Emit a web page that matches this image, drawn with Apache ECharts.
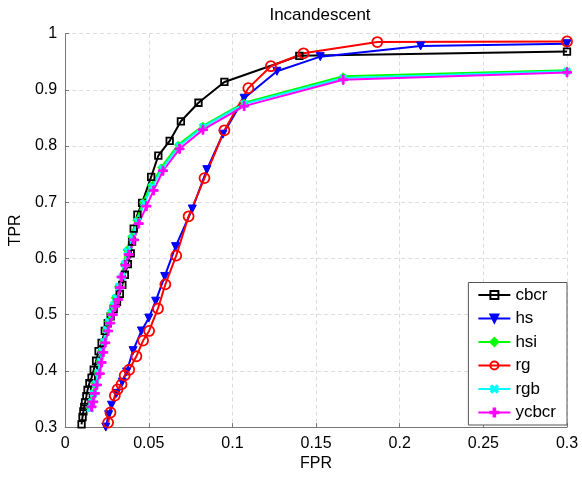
<!DOCTYPE html>
<html><head><meta charset="utf-8">
<script src="https://cdn.jsdelivr.net/npm/echarts@6/dist/echarts.min.js"></script>
<style>html,body{margin:0;padding:0;background:#fff}#c{width:582px;height:477px}</style>
</head><body><div id="c"></div>
<script>
const seriesNames = ['cbcr','hs','hsi','rg','rgb','ycbcr'];
const xTicks = [0,0.05,0.1,0.15,0.2,0.25,0.3];
const yTicks = [0.3,0.4,0.5,0.6,0.7,0.8,0.9,1];
const cbcr = [[0.0098,0.305],[0.0104,0.318],[0.0109,0.328],[0.0114,0.336],[0.0119,0.344],[0.0127,0.355],[0.0134,0.366],[0.0145,0.378],[0.0158,0.388],[0.0171,0.402],[0.0185,0.418],[0.0200,0.435],[0.0218,0.450],[0.0237,0.471],[0.0255,0.485],[0.0272,0.497],[0.0290,0.510],[0.0310,0.523],[0.0327,0.537],[0.0342,0.553],[0.0357,0.571],[0.0375,0.590],[0.0392,0.609],[0.0400,0.630],[0.0410,0.653],[0.0432,0.678],[0.0460,0.699],[0.0514,0.745],[0.0557,0.783],[0.0625,0.809],[0.0692,0.844],[0.0797,0.877],[0.0952,0.914],[0.1400,0.9605],[0.3000,0.968]];
const hs = [[0.0243,0.300],[0.0260,0.322],[0.0277,0.339],[0.0307,0.360],[0.0341,0.380],[0.0367,0.398],[0.0406,0.436],[0.0456,0.471],[0.0500,0.494],[0.0541,0.524],[0.0595,0.568],[0.0660,0.621],[0.0760,0.688],[0.0847,0.758],[0.0943,0.821],[0.1070,0.885],[0.1266,0.933],[0.1525,0.959],[0.2125,0.978],[0.3000,0.982]];
const hsi = [[0.0145,0.334],[0.0155,0.345],[0.0165,0.360],[0.0178,0.377],[0.0193,0.397],[0.0205,0.417],[0.0215,0.435],[0.0228,0.452],[0.0243,0.473],[0.0256,0.488],[0.0270,0.503],[0.0285,0.517],[0.0297,0.530],[0.0315,0.550],[0.0337,0.568],[0.0350,0.590],[0.0367,0.615],[0.0396,0.639],[0.0426,0.668],[0.0466,0.700],[0.0513,0.730],[0.0575,0.762],[0.0675,0.802],[0.0824,0.836],[0.1070,0.877],[0.1662,0.924],[0.3000,0.9346]];
const rg = [[0.0257,0.308],[0.0271,0.326],[0.0297,0.356],[0.0313,0.367],[0.0337,0.376],[0.0356,0.392],[0.0383,0.402],[0.0426,0.426],[0.0466,0.454],[0.0502,0.471],[0.0555,0.511],[0.0599,0.554],[0.0664,0.605],[0.0738,0.675],[0.0833,0.743],[0.0952,0.828],[0.1095,0.903],[0.1230,0.942],[0.1425,0.965],[0.1866,0.985],[0.3000,0.986]];
const rgb = [[0.0150,0.333],[0.0160,0.345],[0.0170,0.360],[0.0183,0.377],[0.0198,0.397],[0.0210,0.417],[0.0220,0.435],[0.0233,0.452],[0.0248,0.473],[0.0261,0.488],[0.0275,0.503],[0.0290,0.517],[0.0303,0.530],[0.0320,0.550],[0.0342,0.568],[0.0355,0.590],[0.0372,0.613],[0.0402,0.637],[0.0432,0.666],[0.0472,0.698],[0.0520,0.728],[0.0580,0.760],[0.0680,0.800],[0.0824,0.834],[0.1070,0.875],[0.1662,0.921],[0.3000,0.933]];
const ycbcr = [[0.0158,0.336],[0.0168,0.345],[0.0178,0.360],[0.0190,0.375],[0.0207,0.395],[0.0218,0.415],[0.0228,0.433],[0.0240,0.450],[0.0257,0.471],[0.0270,0.485],[0.0285,0.500],[0.0300,0.515],[0.0317,0.527],[0.0327,0.548],[0.0337,0.567],[0.0360,0.588],[0.0380,0.607],[0.0412,0.633],[0.0440,0.662],[0.0486,0.693],[0.0529,0.721],[0.0585,0.756],[0.0684,0.795],[0.0824,0.829],[0.1070,0.871],[0.1662,0.918],[0.3000,0.931]];

const plus = 'path://M4,0H6V4H10V6H6V10H4V6H0V4H4Z';
const FONT = 'Liberation Sans';
const CLEAR = 'rgba(255,255,255,0)';
function mk(name, data, color, symbol, size, opts) {
  return Object.assign({
    name, type:'line', data, symbol, symbolSize:size, showSymbol:true,
    lineStyle:{color, width:2}, itemStyle:{color, borderColor:color, borderWidth:1},
    emphasis:{disabled:true}, animation:false
  }, opts||{});
}
const chart = echarts.init(document.getElementById('c'));
chart.setOption({
  backgroundColor:'#fff',
  animation:false,
  title:{text:'Incandescent', left:315, top:2, textAlign:'center',
    textStyle:{fontFamily:FONT, fontSize:17, fontWeight:'normal', color:'#000'}},
  grid:{left:63.5, right:15, top:33.6, bottom:46.5},
  xAxis:{type:'value', min:0, max:0.3, interval:0.05,
    name:'FPR', nameLocation:'middle', nameGap:27,
    nameTextStyle:{fontFamily:FONT, fontSize:16, color:'#000'},
    axisLine:{show:true, onZero:false, lineStyle:{color:'#777', width:1}},
    axisTick:{show:true, inside:true, length:4, lineStyle:{color:'#777'}},
    axisLabel:{fontFamily:FONT, fontSize:16, color:'#000', margin:8,
      formatter:v=>String(+v.toFixed(2))},
    splitLine:{show:true, lineStyle:{color:'#dcdcdc', type:[4,3], width:1}}},
  yAxis:{type:'value', min:0.3, max:1, interval:0.1,
    name:'TPR', nameLocation:'middle', nameGap:30,
    nameTextStyle:{fontFamily:FONT, fontSize:16, color:'#000'},
    axisLine:{show:true, onZero:false, lineStyle:{color:'#777', width:1}},
    axisTick:{show:true, inside:true, length:4, lineStyle:{color:'#777'}},
    axisLabel:{fontFamily:FONT, fontSize:16, color:'#000', margin:8,
      formatter:v=>String(+v.toFixed(2))},
    splitLine:{show:true, lineStyle:{color:'#dcdcdc', type:[4,3], width:1}}},
  legend:{orient:'vertical', right:15, bottom:52, data:seriesNames,
    backgroundColor:'#fff', borderColor:'#555', borderWidth:1, borderRadius:0,
    padding:[4,11,4,9], itemWidth:32, itemHeight:10, itemGap:6.5,
    textStyle:{fontFamily:FONT, fontSize:17, color:'#000'}},
  series:[
    mk('cbcr', cbcr, '#000000', 'rect', 6.5, {itemStyle:{color:CLEAR, borderColor:'#000', borderWidth:1.8}}),
    mk('hs', hs, '#0000ff', 'triangle', 8, {symbolRotate:180}),
    mk('hsi', hsi, '#00ff00', 'diamond', 7),
    mk('rg', rg, '#ff0000', 'circle', 10, {itemStyle:{color:CLEAR, borderColor:'#ff0000', borderWidth:1.8}}),
    mk('rgb', rgb, '#00ffff', plus, 8, {symbolRotate:45}),
    mk('ycbcr', ycbcr, '#ff00ff', plus, 9)
  ]
});
</script></body></html>
